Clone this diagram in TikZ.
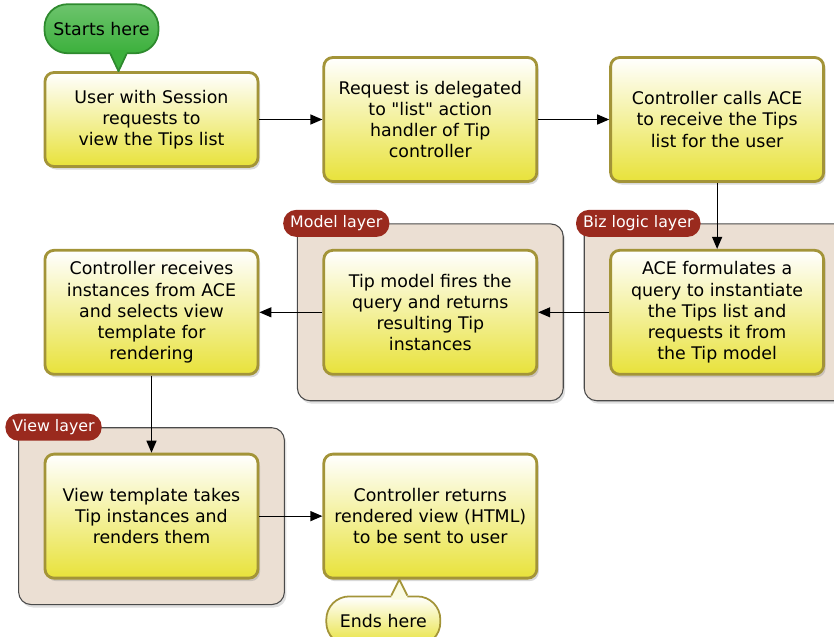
\documentclass[tikz,border=0pt]{standalone}
\usepackage{fontspec}
\setmainfont{DejaVu Sans}[Ligatures=TeXOff]
\usepackage{tikz}
\usetikzlibrary{positioning,arrows.meta,fit,backgrounds,shadows}

\definecolor{boxyellow}{HTML}{E8E23A}
\definecolor{boxedge}{HTML}{A39438}
\definecolor{layerfill}{HTML}{EBDFD3}
\definecolor{layeredge}{HTML}{4A4A4A}
\definecolor{tagred}{HTML}{9A2A1E}
\definecolor{startgreen}{HTML}{3CB03C}
\definecolor{startedge}{HTML}{2E8A2E}

\begin{document}
\begin{tikzpicture}[
  font=\fontsize{9.9}{12}\selectfont,
  box/.style={draw=boxedge, line width=1.6pt, rounded corners=1.8mm, align=center, minimum width=4.26cm, minimum height=2.48cm, top color=white, bottom color=boxyellow, drop shadow={shadow xshift=0.4mm, shadow yshift=-0.6mm, opacity=0.3}},
  layer/.style={draw=layeredge, line width=0.6pt, rounded corners=2.5mm, fill=layerfill, inner sep=5mm, drop shadow={shadow xshift=0.4mm, shadow yshift=-0.6mm, opacity=0.25}},
  tag/.style={fill=tagred, text=white, rounded corners=2.6mm, font=\fontsize{9}{10}\selectfont, inner xsep=1.4mm, minimum height=5.4mm, anchor=west},
  note/.style={rounded corners=4.6mm, minimum width=2.28cm, minimum height=0.98cm, line width=1pt},
  arr/.style={-{Triangle[length=2.4mm, width=2mm]}, line width=0.7pt},
  node distance=13.2mm and 12.6mm]
\useasboundingbox (0,0) rectangle (16.68,-12.72);
\node[box, minimum height=1.88cm] (user) at (3.03,-2.39) {User with Session\\requests to\\view the Tips list};
\node[box, right=of user] (delegate) {Request is delegated\\to "list" action\\handler of Tip\\controller};
\node[box, right=14.2mm of delegate] (callace) {Controller calls ACE\\to receive the Tips\\list for the user};
\node[box, below=of callace] (formulate) {ACE formulates a\\query to instantiate\\the Tips list and\\requests it from\\the Tip model};
\node[box, left=14.2mm of formulate] (model) {Tip model fires the\\query and returns\\resulting Tip\\instances};
\node[box, left=of model] (receive) {Controller receives\\instances from ACE\\and selects view\\template for\\rendering};
\node[box, below=15.4mm of receive] (render) {View template takes\\Tip instances and\\renders them};
\node[box, right=of render] (respond) {Controller returns\\rendered view (HTML)\\to be sent to user};
\begin{scope}[on background layer]
\node[layer, fit=(formulate)] (bizlayer) {};
\node[layer, fit=(model)] (modellayer) {};
\node[layer, fit=(render)] (viewlayer) {};
\node[tag, xshift=-1.6mm] (biztag) at (bizlayer.north west) {Biz logic layer};
\node[tag, xshift=-2.8mm] (modeltag) at (modellayer.north west) {Model layer};
\node[tag, xshift=-2.6mm] (viewtag) at (viewlayer.north west) {View layer};
\end{scope}
\node[note, draw=startedge, top color=startgreen!75!white, bottom color=startgreen, above=3.4mm of user.north, xshift=-10mm] (start) {Starts here};
\coordinate[xshift=-6.6mm] (starttip) at (user.north);
\coordinate (startbase) at (starttip |- start.south);
\fill[startgreen] ([xshift=-1.6mm,yshift=0.8mm]startbase) -- ([xshift=-1.6mm]startbase) -- (starttip) -- ([xshift=1.6mm]startbase) -- ([xshift=1.6mm,yshift=0.8mm]startbase) -- cycle;
\draw[startedge, line width=1pt, line join=round] ([xshift=-1.6mm]startbase) -- (starttip) -- ([xshift=1.6mm]startbase);
\node[note, draw=boxedge, top color=white, bottom color=boxyellow, below=3.2mm of respond.south, xshift=-9.4mm] (finish) {Ends here};
\coordinate[xshift=-6.2mm] (endtip) at (respond.south);
\coordinate (endbase) at (endtip |- finish.north);
\fill[white!85!boxyellow] ([xshift=-1.6mm,yshift=-0.8mm]endbase) -- ([xshift=-1.6mm]endbase) -- (endtip) -- ([xshift=1.6mm]endbase) -- ([xshift=1.6mm,yshift=-0.8mm]endbase) -- cycle;
\draw[boxedge, line width=1pt, line join=round] ([xshift=-1.6mm]endbase) -- (endtip) -- ([xshift=1.6mm]endbase);
\draw[arr] (user) -- (delegate);
\draw[arr] (delegate) -- (callace);
\draw[arr] (callace) -- (formulate);
\draw[arr] (formulate) -- (model);
\draw[arr] (model) -- (receive);
\draw[arr] (receive) -- (render);
\draw[arr] (render) -- (respond);
\end{tikzpicture}
\end{document}
